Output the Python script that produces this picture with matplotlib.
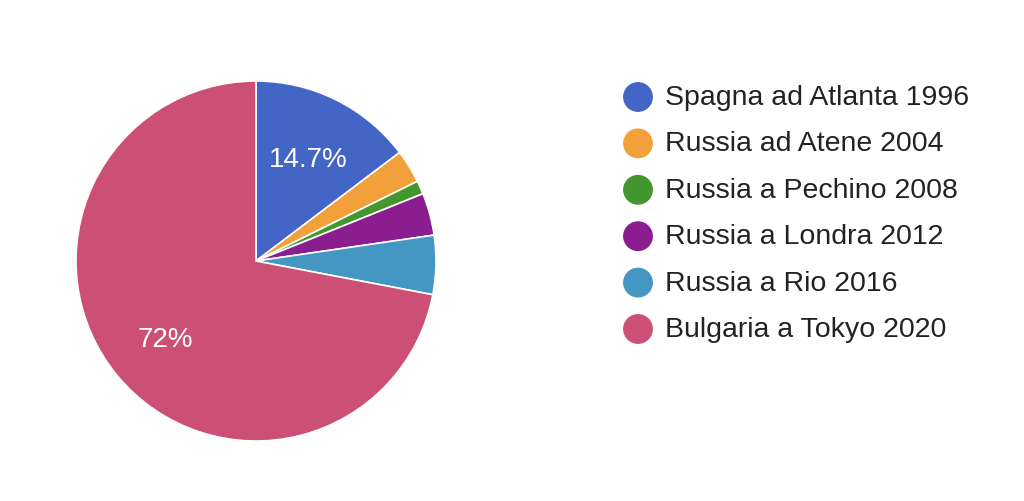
import matplotlib.pyplot as plt
import numpy as np

labels = ["Spagna ad Atlanta 1996", "Russia ad Atene 2004", "Russia a Pechino 2008",
          "Russia a Londra 2012", "Russia a Rio 2016", "Bulgaria a Tokyo 2020"]
values = [14.7, 3.0, 1.2, 3.8, 5.3, 72.0]
colors = ["#4366c6", "#f1a03a", "#44962f", "#8a1e91", "#4597c3", "#cc4f75"]

plt.rcParams['font.family'] = ['Liberation Sans', 'DejaVu Sans']

fig = plt.figure(figsize=(10.24, 5.01), dpi=100)

# pie: center (256,261) px, radius 180 px
ax = fig.add_axes([76/1024, (501-441)/501, 360/1024, 360/501])
def pct(p):
    return "%.3g%%" % p if p > 10 else ""
wedges, texts, autotexts = ax.pie(values, colors=colors, startangle=90, counterclock=False,
                                  autopct=pct, pctdistance=0.65, radius=1,
                                  wedgeprops=dict(edgecolor="white", linewidth=1.2),
                                  textprops=dict(color="white", fontsize=20))
# nudge labels down a little, like the original
for t in autotexts:
    x, y = t.get_position()
    t.set_position((x, y - 0.022))
ax.set_xlim(-1, 1)
ax.set_ylim(-1, 1)
ax.set_aspect("equal")

# legend drawn in pixel coords
lg = fig.add_axes([0, 0, 1, 1])
lg.set_xlim(0, 1024)
lg.set_ylim(501, 0)
lg.axis("off")
y0, dy = 97, 46.4
for i, (lab, c) in enumerate(zip(labels, colors)):
    y = y0 + i * dy
    lg.scatter([638], [y], s=(21.5) ** 2, color=c, edgecolors="none")
    lg.text(665, y + 1, lab, fontsize=20.5, color="#222222", va="center", ha="left")

fig.savefig("out.png", dpi=100, facecolor="white")
